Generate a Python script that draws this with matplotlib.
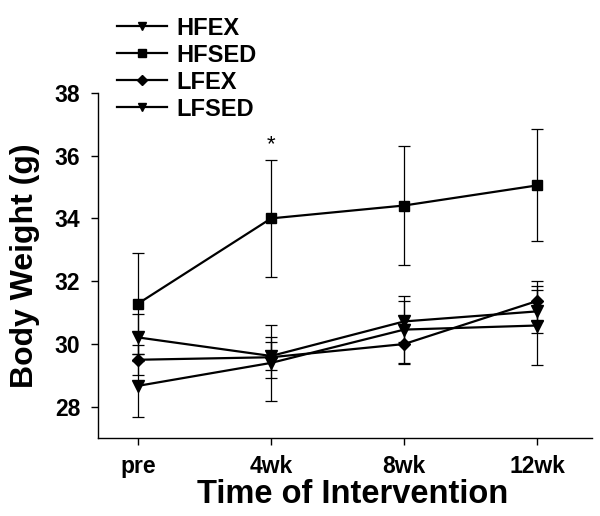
import matplotlib
matplotlib.use('Agg')
import matplotlib.pyplot as plt

# time points
time_labels = ['pre', '4wk', '8wk', '12wk']

# body weight means (g) and error bars
hfex = [30.21, 29.62, 30.72, 31.04]
hfex_err = [0.75, 0.45, 0.65, 0.69]
hfsed = [31.29, 34.00, 34.41, 35.05]
hfsed_err = [1.60, 1.86, 1.90, 1.78]
lfex = [29.50, 29.58, 30.00, 31.37]
lfex_err = [0.48, 0.65, 0.63, 0.65]
lfsed = [28.67, 29.40, 30.46, 30.59]
lfsed_err = [1.00, 1.20, 1.06, 1.26]

plt.rcParams['font.family'] = ['Liberation Sans', 'DejaVu Sans']
plt.rcParams['font.weight'] = 'bold'

fig = plt.figure(figsize=(6.0, 5.16), dpi=100)
ax = fig.add_axes([0.1638, 0.1506, 0.8223, 0.6697])

x = list(range(len(time_labels)))
series = [
    ('HFEX', hfex, hfex_err, 'v', 8),
    ('HFSED', hfsed, hfsed_err, 's', 7),
    ('LFEX', lfex, lfex_err, 'D', 6.5),
    ('LFSED', lfsed, lfsed_err, 'v', 8),
]
handles = []
for name, y, err, mk, ms in series:
    ax.errorbar(x, y, yerr=err, fmt='none', ecolor='black', elinewidth=0.9,
                capsize=4, capthick=0.9, zorder=2)
    h, = ax.plot(x, y, color='black', lw=1.6, marker=mk, markersize=ms,
                 markerfacecolor='black', markeredgecolor='black', label=name, zorder=3)
    handles.append(h)

# significance mark
ax.text(1, 36.35, '*', ha='center', va='center', fontsize=16, fontweight='normal')

ax.set_xlim(-0.30, 3.41)
ax.set_ylim(27, 38)
ax.set_xticks(x)
ax.set_xticklabels(time_labels)
ax.set_yticks([28, 30, 32, 34, 36, 38])
ax.tick_params(axis='both', direction='out', length=5, width=1, labelsize=16.5)
ax.tick_params(axis='x', pad=7)
ax.tick_params(axis='y', pad=8)
ax.spines['top'].set_visible(False)
ax.spines['right'].set_visible(False)
for s in ['left', 'bottom']:
    ax.spines[s].set_linewidth(1)

ax.set_xlabel('Time of Intervention', fontsize=23.5, fontweight='bold')
ax.xaxis.set_label_coords(0.516, -0.118)
ax.set_ylabel('Body Weight (g)', fontsize=23, fontweight='bold')
ax.yaxis.set_label_coords(-0.119, 0.5)

fig.legend(handles=handles, loc='upper left', bbox_to_anchor=(0.195, 0.968),
           frameon=False, fontsize=17, handlelength=2.1, handletextpad=0.4,
           labelspacing=0.17, borderpad=0, borderaxespad=0, markerscale=0.75)

fig.savefig('out.png', dpi=100)
